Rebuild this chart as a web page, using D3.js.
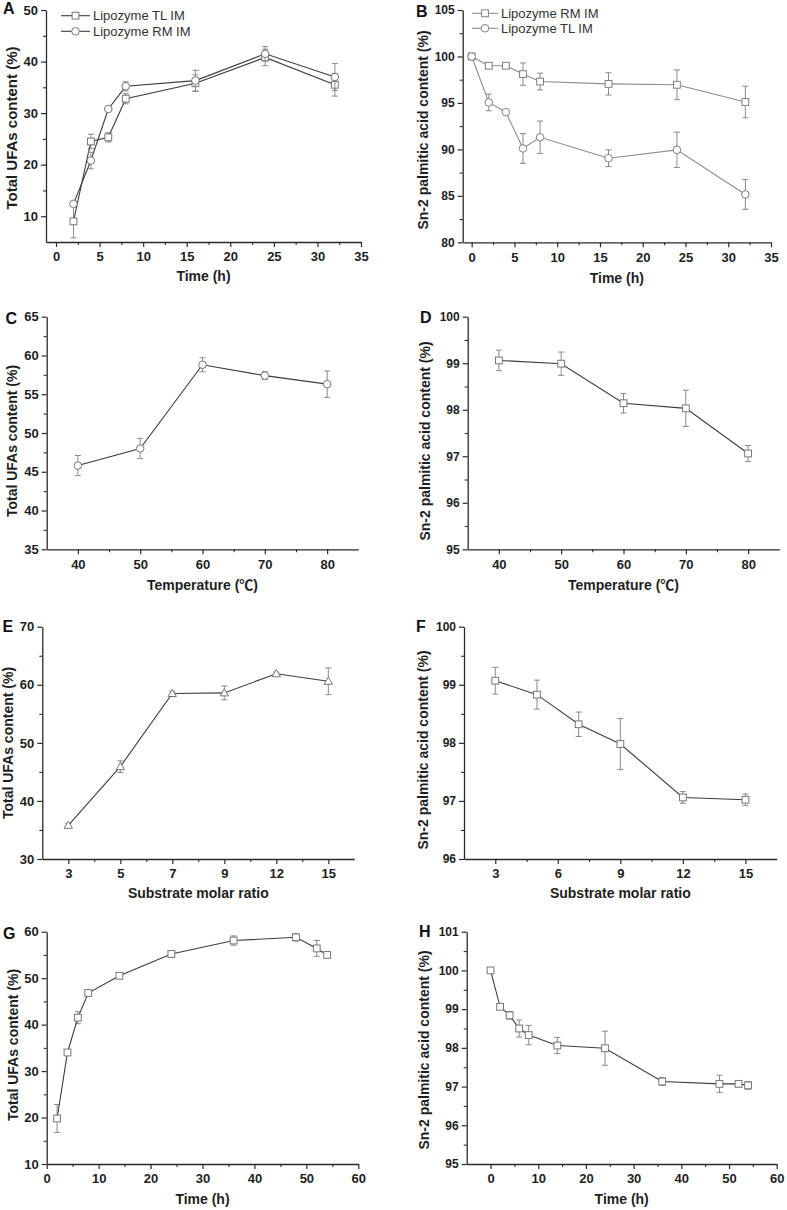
<!DOCTYPE html>
<html><head><meta charset="utf-8">
<script src="https://cdn.jsdelivr.net/npm/d3@7"></script>
<style>
body{margin:0;background:#fff;}
svg{display:block;font-family:"Liberation Sans",Arial,"Noto Sans CJK SC",sans-serif;}
</style></head><body>
<svg id="chart" width="787" height="1210"></svg>
<script>
// ---------------- DATA ----------------
// Panel A: total UFAs vs time, two lipases
const timeA = [2, 4, 6, 8, 16, 24, 32];
const ufaTL_A = [9.0, 24.5, 25.3, 32.8, 35.8, 40.8, 35.5];
const ufaTL_A_err = [3.2, 1.4, 0.9, 1.0, 1.6, 1.6, 2.2];
const ufaRM_A = [12.4, 20.8, 30.8, 35.2, 36.3, 41.5, 37.0];
const ufaRM_A_err = [0.4, 1.6, 0.4, 0.9, 2.0, 1.4, 2.6];
// Panel B: sn-2 palmitic acid vs time, two lipases
const timeB = [0, 2, 4, 6, 8, 16, 24, 32];
const sn2RM_B = [100, 99.0, 99.0, 98.1, 97.3, 97.05, 96.95, 95.1];
const sn2RM_B_err = [0, 0.1, 0.05, 1.2, 0.9, 1.2, 1.6, 1.7];
const sn2TL_B = [100, 95.05, 94.0, 90.1, 91.3, 89.05, 89.95, 85.15];
const sn2TL_B_err = [0, 0.9, 0.05, 1.6, 1.75, 0.9, 1.9, 1.6];
// Panels C, D: temperature
const tempC = [40, 50, 60, 70, 80];
const ufaC = [45.8, 48.0, 58.8, 57.4, 56.3];
const ufaC_err = [1.3, 1.3, 0.9, 0.5, 1.7];
const sn2D = [99.06, 98.99, 98.14, 98.03, 97.06];
const sn2D_err = [0.22, 0.25, 0.21, 0.39, 0.17];
// Panels E, F: substrate molar ratio
const ratioE = ["3", "5", "7", "9", "12", "15"];
const ufaE = [35.8, 45.9, 58.5, 58.6, 61.9, 60.6];
const ufaE_err = [0.3, 1.0, 0.4, 1.2, 0.3, 2.3];
const ratioF = [3, 5, 7, 9, 12, 15];
const sn2F = [99.07, 98.83, 98.32, 97.98, 97.06, 97.02];
const sn2F_err = [0.23, 0.25, 0.21, 0.44, 0.1, 0.1];
// Panels G, H: time (optimised conditions)
const timeG = [2, 4, 6, 8, 14, 24, 36, 48, 52, 54];
const ufaG = [19.8, 34.0, 41.5, 46.8, 50.5, 55.2, 58.1, 58.8, 56.4, 55.0];
const ufaG_err = [3.0, 0.3, 1.3, 0.3, 0.3, 0.3, 1.0, 0.8, 1.7, 0.5];
const timeH = [0, 2, 4, 6, 8, 14, 24, 36, 48, 52, 54];
const sn2H = [100, 99.06, 98.84, 98.5, 98.33, 98.06, 97.99, 97.13, 97.07, 97.07, 97.03];
const sn2H_err = [0, 0.03, 0.1, 0.22, 0.25, 0.21, 0.44, 0.1, 0.22, 0.02, 0.1];

// Tick labels
const ticksTime35 = [0, 5, 10, 15, 20, 25, 30, 35];
const ticksUfaA = [10, 20, 30, 40, 50];
const ticksSn2B = [80, 85, 90, 95, 100, 105];
const ticksTemp = [40, 50, 60, 70, 80];
const ticksUfaC = [35, 40, 45, 50, 55, 60, 65];
const ticksSn2D = [95, 96, 97, 98, 99, 100];
const ticksUfaE = [30, 40, 50, 60, 70];
const ticksRatioF = [3, 6, 9, 12, 15];
const ticksSn2F = [96, 97, 98, 99, 100];
const ticksTime60 = [0, 10, 20, 30, 40, 50, 60];
const ticksUfaG = [10, 20, 30, 40, 50, 60];
const ticksSn2H = [95, 96, 97, 98, 99, 100, 101];

const yUFA = "Total UFAs content (%)";
const ySn2 = "Sn-2 palmitic acid content (%)";

// ---------------- DRAWING ----------------
const svg = d3.select("#chart");
const AXIS = "#2a2a2a", TXT = "#1e1e1e", ERR = "#8a8a8a";

function marker(g, type, cx, cy, stroke) {
  if (type === "square") {
    g.append("rect").attr("x", cx - 3.4).attr("y", cy - 3.4).attr("width", 6.8).attr("height", 6.8)
      .attr("fill", "#fff").attr("stroke", stroke).attr("stroke-width", 1);
  } else if (type === "circle") {
    g.append("circle").attr("cx", cx).attr("cy", cy).attr("r", 3.8)
      .attr("fill", "#fff").attr("stroke", stroke).attr("stroke-width", 1);
  } else {
    g.append("path").attr("d", `M${cx},${cy - 4.2}L${cx + 4.2},${cy + 3}L${cx - 4.2},${cy + 3}Z`)
      .attr("fill", "#fff").attr("stroke", stroke).attr("stroke-width", 1);
  }
}

function panel(c) {
  const x = d3.scaleLinear().domain(c.xDomain).range([c.left, c.right]);
  const y = d3.scaleLinear().domain(c.yDomain).range([c.bottom, c.top]);
  const g = svg.append("g");

  // minor ticks
  const xm = g.append("g").attr("transform", `translate(0,${c.bottom})`)
    .call(d3.axisBottom(x).tickValues(c.xMinor).tickSize(3).tickSizeOuter(0).tickFormat(""));
  const ym = g.append("g").attr("transform", `translate(${c.left},0)`)
    .call(d3.axisLeft(y).tickValues(c.yMinor).tickSize(3).tickSizeOuter(0).tickFormat(""));
  [xm, ym].forEach(a => { a.select(".domain").remove(); a.selectAll("line").attr("stroke", AXIS).attr("stroke-width", 1.1); });

  // major axes
  const xa = g.append("g").attr("transform", `translate(0,${c.bottom})`)
    .call(d3.axisBottom(x).tickValues(c.xTicks).tickSize(5).tickSizeOuter(0).tickPadding(5)
      .tickFormat(c.xFormat || (d => d)));
  const ya = g.append("g").attr("transform", `translate(${c.left},0)`)
    .call(d3.axisLeft(y).tickValues(c.yTicks).tickSize(5).tickSizeOuter(0).tickPadding(3)
      .tickFormat(d => d));
  [xa, ya].forEach(a => {
    a.select(".domain").attr("stroke", AXIS).attr("stroke-width", 1.3);
    a.selectAll("line").attr("stroke", AXIS).attr("stroke-width", 1.2);
    a.selectAll("text").attr("fill", TXT).attr("font-size", 13).attr("font-weight", "bold")
      .attr("font-family", '"Liberation Sans",Arial,sans-serif');
  });
  if (c.yTickFont) ya.selectAll("text").attr("font-size", c.yTickFont);

  // titles
  g.append("text").attr("x", (c.left + c.right) / 2).attr("y", c.xTitleY).attr("text-anchor", "middle")
    .attr("font-size", 14).attr("font-weight", "bold").attr("fill", TXT).text(c.xTitle);
  g.append("text").attr("transform", `translate(${c.yTitleX},${c.yTitleY}) rotate(-90)`)
    .attr("text-anchor", "middle").attr("dy", "0.36em")
    .attr("font-size", c.yTitleFont || 14).attr("font-weight", "bold").attr("fill", TXT).text(c.yTitle);
  g.append("text").attr("x", c.lx).attr("y", c.ly).attr("font-size", 16).attr("font-weight", "bold")
    .attr("fill", "#111").text(c.letter);

  // series
  c.series.forEach(s => {
    const pts = s.x.map((xv, i) => ({ x: xv, y: s.y[i], e: s.err[i] }));
    const eg = g.append("g").attr("stroke", ERR).attr("stroke-width", 1);
    pts.forEach(p => {
      if (!p.e) return;
      const px = x(p.x), y1 = y(p.y + p.e), y2 = y(p.y - p.e);
      eg.append("line").attr("x1", px).attr("x2", px).attr("y1", y1).attr("y2", y2);
      eg.append("line").attr("x1", px - 3).attr("x2", px + 3).attr("y1", y1).attr("y2", y1);
      eg.append("line").attr("x1", px - 3).attr("x2", px + 3).attr("y1", y2).attr("y2", y2);
    });
    g.append("path").datum(pts).attr("fill", "none").attr("stroke", c.lineColor).attr("stroke-width", 1.1)
      .attr("d", d3.line().x(d => x(d.x)).y(d => y(d.y)));
    const mg = g.append("g");
    pts.forEach(p => marker(mg, s.marker, x(p.x), y(p.y), c.markerColor));
  });

  // legend
  if (c.legend) {
    const L = c.legend;
    L.items.forEach((it, i) => {
      const yy = L.y + i * L.dy;
      g.append("line").attr("x1", L.x).attr("x2", L.x + L.w).attr("y1", yy).attr("y2", yy)
        .attr("stroke", c.lineColor).attr("stroke-width", 1.1);
      marker(g, it.marker, L.x + L.w / 2, yy, c.markerColor);
      g.append("text").attr("x", L.x + L.w + 3).attr("y", yy).attr("dy", "0.36em")
        .attr("font-size", 13).attr("fill", "#333").text(it.label);
    });
  }
}

const r = (a, b, s) => d3.range(a, b + 1e-9, s);

panel({
  letter: "A", lx: 3, ly: 14,
  left: 46, right: 361, top: 10, bottom: 242,
  xDomain: [-1.15, 35], yDomain: [5, 50],
  xTicks: ticksTime35, xMinor: r(2.5, 32.5, 5), yTicks: ticksUfaA, yMinor: r(15, 45, 10),
  xTitle: "Time (h)", xTitleY: 281, yTitle: yUFA, yTitleX: 12, yTitleY: 128, yTitleFont: 15,
  lineColor: "#3c3c3c", markerColor: "#777",
  series: [
    { x: timeA, y: ufaTL_A, err: ufaTL_A_err, marker: "square" },
    { x: timeA, y: ufaRM_A, err: ufaRM_A_err, marker: "circle" }
  ],
  legend: { x: 61, y: 15.7, dy: 15.6, w: 29, items: [
    { label: "Lipozyme TL IM", marker: "square" }, { label: "Lipozyme RM IM", marker: "circle" }] }
});

panel({
  letter: "B", lx: 416, ly: 17,
  left: 462.7, right: 771, top: 10, bottom: 242.3,
  xDomain: [-1.05, 35], yDomain: [80, 105], yTickFont: 12,
  xTicks: ticksTime35, xMinor: r(2.5, 32.5, 5), yTicks: ticksSn2B, yMinor: r(82.5, 102.5, 5),
  xTitle: "Time (h)", xTitleY: 283, yTitle: ySn2, yTitleX: 422.5, yTitleY: 130,
  lineColor: "#8c8c8c", markerColor: "#808080",
  series: [
    { x: timeB, y: sn2RM_B, err: sn2RM_B_err, marker: "square" },
    { x: timeB, y: sn2TL_B, err: sn2TL_B_err, marker: "circle" }
  ],
  legend: { x: 472, y: 13.3, dy: 15, w: 26, items: [
    { label: "Lipozyme RM IM", marker: "square" }, { label: "Lipozyme TL IM", marker: "circle" }] }
});

panel({
  letter: "C", lx: 5.5, ly: 323.5,
  left: 46.7, right: 358.3, top: 316.7, bottom: 549.3,
  xDomain: [35, 85], yDomain: [35, 65],
  xTicks: ticksTemp, xMinor: r(45, 75, 10), yTicks: ticksUfaC, yMinor: r(37.5, 62.5, 5),
  xTitle: "Temperature (℃)", xTitleY: 590, yTitle: yUFA, yTitleX: 12, yTitleY: 441,
  lineColor: "#3c3c3c", markerColor: "#777",
  series: [{ x: tempC, y: ufaC, err: ufaC_err, marker: "circle" }]
});

panel({
  letter: "D", lx: 420, ly: 322.5,
  left: 467.7, right: 779.3, top: 316.7, bottom: 549.3,
  xDomain: [35, 85], yDomain: [95, 100], yTickFont: 12,
  xTicks: ticksTemp, xMinor: r(45, 75, 10), yTicks: ticksSn2D, yMinor: r(95.5, 99.5, 1),
  xTitle: "Temperature (℃)", xTitleY: 590, yTitle: ySn2, yTitleX: 425, yTitleY: 441,
  lineColor: "#3c3c3c", markerColor: "#777",
  series: [{ x: tempC, y: sn2D, err: sn2D_err, marker: "square" }]
});

panel({
  letter: "E", lx: 2.5, ly: 632,
  left: 42.3, right: 354.3, top: 626.7, bottom: 859,
  xDomain: [0.5, 6.5], yDomain: [30, 70],
  xTicks: ratioE.map((d, i) => i + 1), xFormat: i => ratioE[i - 1], xMinor: r(1.5, 5.5, 1),
  yTicks: ticksUfaE, yMinor: r(35, 65, 10),
  xTitle: "Substrate molar ratio", xTitleY: 898, yTitle: yUFA, yTitleX: 8, yTitleY: 743,
  lineColor: "#3c3c3c", markerColor: "#777",
  series: [{ x: ratioE.map((d, i) => i + 1), y: ufaE, err: ufaE_err, marker: "triangle" }]
});

panel({
  letter: "F", lx: 416, ly: 631.5,
  left: 464, right: 776.7, top: 626.7, bottom: 859,
  xDomain: [1.5, 16.5], yDomain: [96, 100], yTickFont: 12,
  xTicks: ticksRatioF, xMinor: r(4.5, 13.5, 3), yTicks: ticksSn2F, yMinor: r(96.5, 99.5, 1),
  xTitle: "Substrate molar ratio", xTitleY: 898, yTitle: ySn2, yTitleX: 423, yTitleY: 750,
  lineColor: "#3c3c3c", markerColor: "#777",
  series: [{ x: ratioF, y: sn2F, err: sn2F_err, marker: "square" }]
});

panel({
  letter: "G", lx: 3, ly: 938.5,
  left: 46.7, right: 358.3, top: 931.7, bottom: 1164,
  xDomain: [0, 60], yDomain: [10, 60],
  xTicks: ticksTime60, xMinor: r(5, 55, 10), yTicks: ticksUfaG, yMinor: r(15, 55, 10),
  xTitle: "Time (h)", xTitleY: 1204, yTitle: yUFA, yTitleX: 12.5, yTitleY: 1045,
  lineColor: "#3c3c3c", markerColor: "#777",
  series: [{ x: timeG, y: ufaG, err: ufaG_err, marker: "square" }]
});

panel({
  letter: "H", lx: 419, ly: 936.5,
  left: 466.7, right: 776.7, top: 931.7, bottom: 1164,
  xDomain: [-5, 60], yDomain: [95, 101], yTickFont: 12,
  xTicks: ticksTime60, xMinor: r(5, 55, 10), yTicks: ticksSn2H, yMinor: r(95.5, 100.5, 1),
  xTitle: "Time (h)", xTitleY: 1204, yTitle: ySn2, yTitleX: 424, yTitleY: 1050,
  lineColor: "#3c3c3c", markerColor: "#777",
  series: [{ x: timeH, y: sn2H, err: sn2H_err, marker: "square" }]
});
</script>
</body></html>
